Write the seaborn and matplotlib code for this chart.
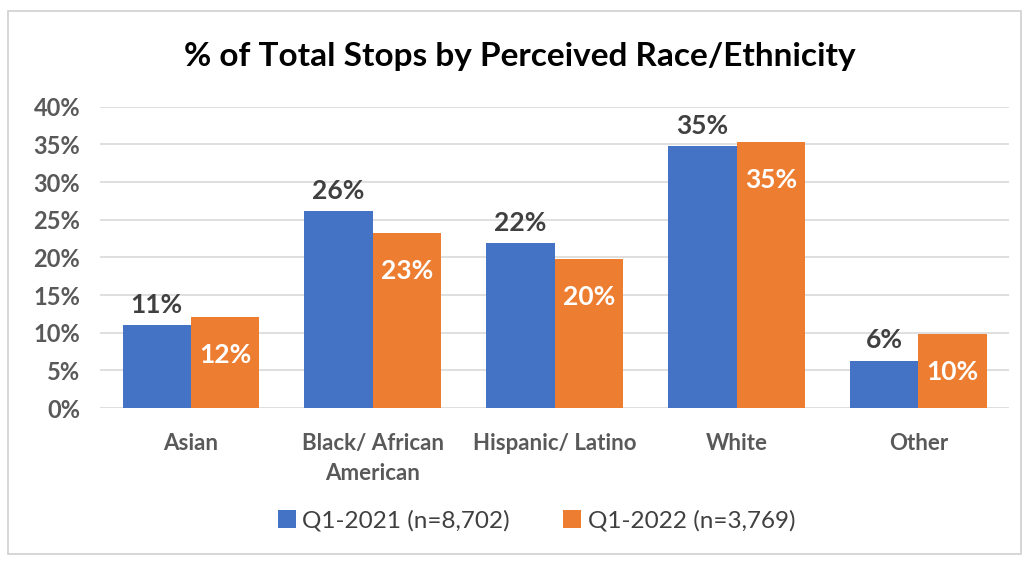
import matplotlib
matplotlib.use("Agg")
import matplotlib.pyplot as plt
import seaborn as sns
import pandas as pd
from matplotlib.patches import Rectangle

# Stop shares by perceived race/ethnicity (percent of total stops)
categories = ["Asian", "Black/ African\nAmerican", "Hispanic/ Latino", "White", "Other"]
q1_2021 = [11.0, 26.1, 21.9, 34.8, 6.3]
q1_2022 = [12.1, 23.2, 19.8, 35.3, 9.8]
series_names = ["Q1-2021 (n=8,702)", "Q1-2022 (n=3,769)"]
y_ticks = [0, 5, 10, 15, 20, 25, 30, 35, 40]

df = pd.DataFrame({
    "category": categories * 2,
    "value": q1_2021 + q1_2022,
    "series": [series_names[0]] * len(categories) + [series_names[1]] * len(categories),
})

sns.set_theme(style="white")
plt.rcParams["font.family"] = ["Lato", "DejaVu Sans"]

blue = "#4472C4"
orange = "#ED7D31"
text_grey = "#404040"

fig = plt.figure(figsize=(10.29, 5.62), dpi=100)
ax = fig.add_axes([0.097, 0.274, 0.884, 0.536])

sns.barplot(data=df, x="category", y="value", hue="series",
            palette=[blue, orange], width=0.75, saturation=1,
            linewidth=0, ax=ax, legend=True)

ax.set_ylim(0, 40)
ax.set_yticks(y_ticks)
ax.set_yticklabels([f"{t}%" for t in y_ticks], fontsize=17, color="#595959")
ax.tick_params(axis="x", labelsize=16, colors="#595959", length=0, pad=18)
ax.tick_params(axis="y", length=0, pad=14)
for lbl in ax.get_xticklabels():
    lbl.set_fontweight("bold")
    lbl.set_linespacing(1.55)
for lbl in ax.get_yticklabels():
    lbl.set_fontweight("bold")
ax.set_xlabel("")
ax.set_ylabel("")
ax.yaxis.grid(True, color="#D9D9D9", linewidth=1.2)
ax.set_axisbelow(True)
for s in ax.spines.values():
    s.set_visible(False)

# Value labels: above the blue bars, inside the top of the orange bars
c_blue, c_orange = ax.containers[0], ax.containers[1]
ax.bar_label(c_blue, labels=[f"{v:.0f}%" for v in q1_2021], padding=6,
             fontsize=19, color=text_grey, fontweight="bold")
ax.bar_label(c_orange, labels=[f"{v:.0f}%" for v in q1_2022], padding=-36,
             fontsize=19, color="white", fontweight="bold")

ax.legend(loc="upper center", bbox_to_anchor=(0.48, -0.265), ncol=2, frameon=False,
          fontsize=17.5, handlelength=0.75, handleheight=0.75, handletextpad=0.25,
          columnspacing=2.2, labelcolor="#404040")

fig.text(0.505, 0.9, "% of Total Stops by Perceived Race/Ethnicity",
         ha="center", va="center", fontsize=24, fontweight="bold", color="black")

fig.patches.append(Rectangle((0.008, 0.015), 0.984, 0.965, transform=fig.transFigure,
                             fill=False, edgecolor="#D0D0D0", linewidth=1.2))

fig.savefig("out.png", dpi=100)
